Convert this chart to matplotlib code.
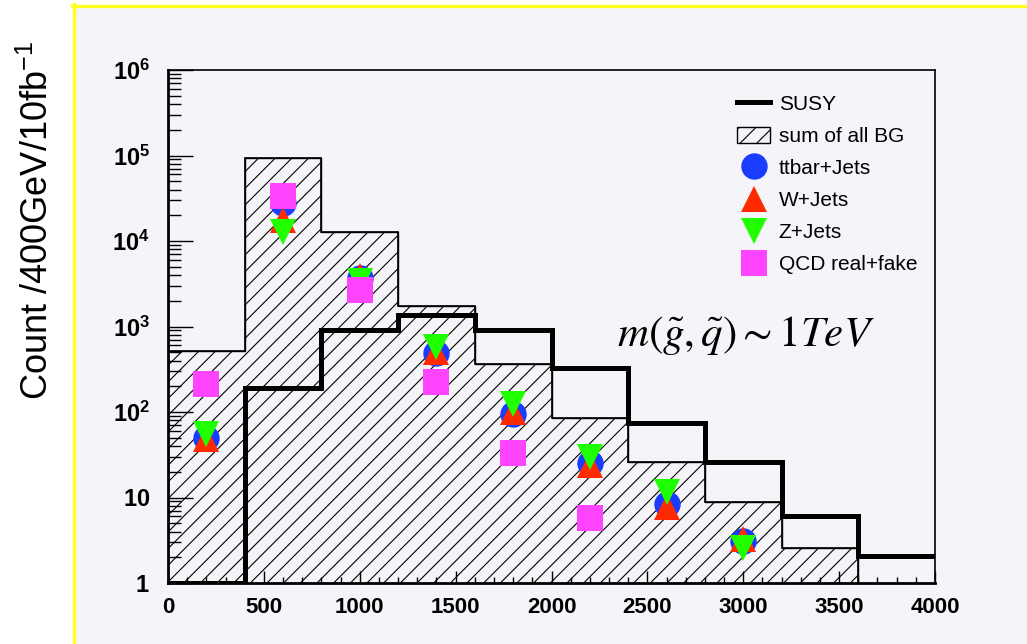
import numpy as np
import matplotlib.pyplot as plt
from matplotlib.lines import Line2D
from matplotlib.patches import Patch, Rectangle
from matplotlib.ticker import LogLocator, MultipleLocator, FixedLocator, FuncFormatter, NullFormatter

plt.rcParams['font.family'] = 'Liberation Sans'
plt.rcParams['mathtext.fontset'] = 'custom'
plt.rcParams['mathtext.rm'] = 'Liberation Sans'
plt.rcParams['mathtext.bf'] = 'Liberation Sans:bold'
plt.rcParams['hatch.linewidth'] = 0.8

# histogram binning (400 GeV bins)
edges = np.arange(0, 4001, 400)
centers = np.arange(200, 3001, 400)

susy = [1, 190, 910, 1350, 910, 325, 75, 26, 6, 2.05]
bg_sum = [514, 93500, 12800, 1740, 362, 85, 26, 8.9, 2.6]

ttbar = [50, 28000, 3700, 490, 95, 25, 8.5, 3.1]
wjets = [48, 17500, 3900, 500, 100, 24, 7.8, 3.3]
zjets = [55, 12800, 3400, 570, 125, 30, 11.5, 2.6]
qcd = [210, 34000, 2650, 225, 33, 5.7, np.nan, np.nan]

W, H = 1027, 644
fig = plt.figure(figsize=(W / 100, H / 100), dpi=100)
fig.patch.set_facecolor('white')

# canvas panel with yellow edge
bgc = '#f5f4f8'
fig.add_artist(Rectangle((74 / W, 0), 1 - 74 / W, 1 - 6 / H, transform=fig.transFigure,
                         facecolor=bgc, edgecolor='none', zorder=0))
fig.add_artist(Line2D([73.5 / W, 73.5 / W], [0, 1 - 4 / H], transform=fig.transFigure,
                      color='#ffff22', lw=2.4, zorder=1))
fig.add_artist(Line2D([72 / W, 1], [1 - 5.5 / H, 1 - 5.5 / H], transform=fig.transFigure,
                      color='#ffff22', lw=2.4, zorder=1))

ax = fig.add_axes([168 / W, (H - 583) / H, 767 / W, 513 / H])
ax.set_facecolor(bgc)
ax.set_yscale('log')
ax.set_xlim(0, 4000)
ax.set_ylim(1, 1e6)

# summed background, hatched
ax.stairs(bg_sum, edges[:len(bg_sum) + 1], baseline=1, fill=True, facecolor='none',
          edgecolor='black', hatch='//', linewidth=1.0, zorder=2)
ax.stairs(bg_sum, edges[:len(bg_sum) + 1], baseline=1, fill=False,
          edgecolor='black', linewidth=1.2, zorder=2)
# signal
ax.stairs(susy, edges, baseline=None, color='black', linewidth=3.6, zorder=3)

ms = 19
ax.plot(centers, ttbar, 'o', color='#1a3cff', ms=ms, mew=0, zorder=4)
ax.plot(centers, wjets, '^', color='#ff2a00', ms=ms, mew=0, zorder=5)
ax.plot(centers, zjets, 'v', color='#1fff00', ms=ms, mew=0, zorder=6)
ax.plot(centers, qcd, 's', color='#ff44ff', ms=ms - 0.5, mew=0, zorder=7)

ax.text(0.585, 0.483, r'$m(\tilde{g},\tilde{q})\sim 1TeV$', transform=ax.transAxes,
        math_fontfamily='stix', fontsize=31, va='center', ha='left', zorder=8)

# axes style
for s in ['left', 'bottom']:
    ax.spines[s].set_linewidth(2.0)
for s in ['top', 'right']:
    ax.spines[s].set_linewidth(1.2)

ax.xaxis.set_major_locator(MultipleLocator(500))
ax.xaxis.set_minor_locator(MultipleLocator(100))
ax.yaxis.set_major_locator(FixedLocator([1, 10, 1e2, 1e3, 1e4, 1e5, 1e6]))
ax.yaxis.set_minor_locator(LogLocator(base=10, subs=np.arange(2, 10), numticks=10))
ax.yaxis.set_minor_formatter(NullFormatter())


def ylab(v, pos):
    e = int(round(np.log10(v)))
    if e == 0:
        return r'$\mathbf{1}$'
    if e == 1:
        return r'$\mathbf{10}$'
    return r'$\mathbf{10^{%d}}$' % e


ax.yaxis.set_major_formatter(FuncFormatter(ylab))
ax.tick_params(axis='both', which='both', direction='in', top=False, right=False, width=1.0)
ax.tick_params(axis='y', which='major', length=18, pad=13, labelsize=17)
ax.tick_params(axis='y', which='minor', length=9)
ax.tick_params(axis='x', which='major', length=9, pad=10, labelsize=16)
ax.tick_params(axis='x', which='minor', length=4.5)
for lab in ax.get_xticklabels():
    lab.set_fontweight('bold')

fig.text(38 / W, 1 - 220 / H, r'Count /400GeV/10fb$^{-1}$', rotation=90,
         fontsize=26, ha='center', va='center')

handles = [
    Line2D([], [], color='black', lw=3.6),
    Patch(facecolor='none', edgecolor='black', hatch='//', lw=1.0),
    Line2D([], [], ls='none', marker='o', color='#1a3cff', ms=ms, mew=0),
    Line2D([], [], ls='none', marker='^', color='#ff2a00', ms=ms, mew=0),
    Line2D([], [], ls='none', marker='v', color='#1fff00', ms=ms, mew=0),
    Line2D([], [], ls='none', marker='s', color='#ff44ff', ms=ms - 0.5, mew=0),
]
labels = ['SUSY', 'sum of all BG', 'ttbar+Jets', 'W+Jets', 'Z+Jets', 'QCD real+fake']
ax.legend(handles, labels, loc='upper left', bbox_to_anchor=(0.742, 0.952), frameon=False,
          fontsize=15, borderpad=0, borderaxespad=0, handlelength=1.6, handleheight=0.8,
          handletextpad=0.4, labelspacing=0.62, numpoints=1)

fig.savefig('out.png', dpi=100, facecolor='white')
